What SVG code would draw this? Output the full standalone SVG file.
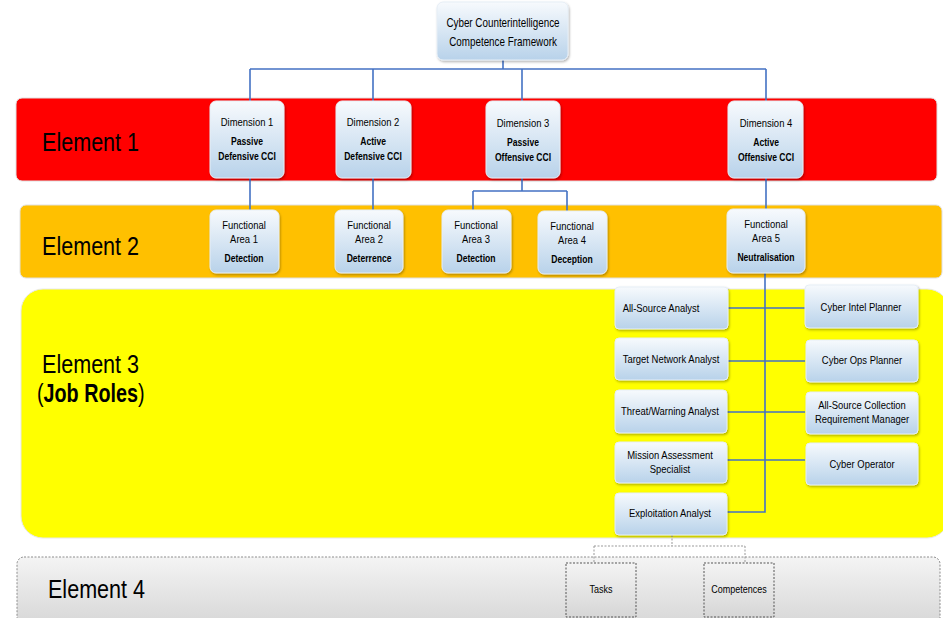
<svg xmlns="http://www.w3.org/2000/svg" width="943" height="618" viewBox="0 0 943 618">
<defs>
<linearGradient id="boxg" x1="0" y1="0" x2="0" y2="1">
<stop offset="0" stop-color="#f7fafd"/>
<stop offset="1" stop-color="#b8d2ea"/>
</linearGradient>
<linearGradient id="grayg" x1="0" y1="0" x2="0" y2="1">
<stop offset="0" stop-color="#f4f4f4"/>
<stop offset="1" stop-color="#d6d6d6"/>
</linearGradient>
<filter id="sh" x="-10%" y="-10%" width="130%" height="130%">
<feDropShadow dx="1" dy="1.5" stdDeviation="1.2" flood-color="#000" flood-opacity="0.3"/>
</filter>
</defs>
<style>
text{font-family:"Liberation Sans",Arial,sans-serif;fill:#000;transform-box:fill-box;}
.box{fill:url(#boxg);stroke:#e6eef6;stroke-width:1;filter:url(#sh);}
.t{font-size:11px;text-anchor:middle;transform-origin:center;transform:scaleX(0.86);}
.t.b{font-weight:bold;transform:scaleX(0.78);}
.top{font-size:12px;transform:scaleX(0.82);}
.sm{font-size:10px;transform:scaleX(0.9);}
.el{font-size:26px;transform-origin:left center;transform:scaleX(0.83);}
.jr{transform:scaleX(0.76);}
.con{fill:none;stroke:#4472c4;stroke-width:1.6;}
.dash{fill:none;stroke:#999;stroke-width:1;stroke-dasharray:2 1.5;}
</style>

<g id="bands">
<rect x="16" y="98" width="921" height="83" rx="6" fill="#ff0000" stroke="#e0e0e0"/>
<rect x="20" y="205" width="922" height="73" rx="6" fill="#ffc000" stroke="#e0e0e0"/>
<rect x="21" y="289" width="928" height="249" rx="22" fill="#ffff00" stroke="#e8e8e8"/>
<rect x="17" y="557" width="923" height="70" rx="7" fill="url(#grayg)" stroke="#8c8c8c" stroke-dasharray="2 1.5"/>
<text class="el" x="42" y="151">Element 1</text>
<text class="el" x="42" y="255">Element 2</text>
<text class="el" x="42" y="373">Element 3</text>
<text class="el jr" x="37" y="402"><tspan>(</tspan><tspan font-weight="bold">Job Roles</tspan><tspan>)</tspan></text>
<text class="el" x="48" y="598">Element 4</text>
</g>

<g id="connectors">
<path class="con" d="M503 60V69M250 69H766M250 69V101M373 69V101M522 69V101M766 69V101"/>
<path class="con" d="M250 178V210M373 178V210M522 178V191M473 191H567M473 191V210M567 191V211M766 178V209"/>
<path class="con" d="M765 273V512H726"/>
<path class="con" d="M728 308H805M727 361H805M727 412H805M727 460H805"/>
<path class="dash" d="M672 535V546M594 546H745M594 546V563M745 546V563"/>
</g>

<g id="root">
<rect class="box" x="437" y="2" width="131" height="58" rx="6"/>
<text class="t top" x="503" y="27">Cyber Counterintelligence</text>
<text class="t top" x="503" y="46">Competence Framework</text>
</g>

<g id="dim1">
<rect class="box" x="210" y="101" width="74" height="77" rx="6"/>
<text class="t" x="247" y="126">Dimension 1</text>
<text class="t b" x="247" y="145">Passive</text>
<text class="t b" x="247" y="160">Defensive CCI</text>
</g>
<g id="dim2">
<rect class="box" x="336" y="101" width="75" height="77" rx="6"/>
<text class="t" x="373" y="126">Dimension 2</text>
<text class="t b" x="373" y="145">Active</text>
<text class="t b" x="373" y="160">Defensive CCI</text>
</g>
<g id="dim3">
<rect class="box" x="486" y="101" width="74" height="77" rx="6"/>
<text class="t" x="523" y="127">Dimension 3</text>
<text class="t b" x="523" y="146">Passive</text>
<text class="t b" x="523" y="161">Offensive CCI</text>
</g>
<g id="dim4">
<rect class="box" x="728" y="101" width="75" height="77" rx="6"/>
<text class="t" x="766" y="127">Dimension 4</text>
<text class="t b" x="766" y="146">Active</text>
<text class="t b" x="766" y="161">Offensive CCI</text>
</g>

<g id="fa1">
<rect class="box" x="210" y="210" width="69" height="63" rx="6"/>
<text class="t" x="244" y="229">Functional</text>
<text class="t" x="244" y="243">Area 1</text>
<text class="t b" x="244" y="262">Detection</text>
</g>
<g id="fa2">
<rect class="box" x="335" y="210" width="68" height="63" rx="6"/>
<text class="t" x="369" y="229">Functional</text>
<text class="t" x="369" y="243">Area 2</text>
<text class="t b" x="369" y="262">Deterrence</text>
</g>
<g id="fa3">
<rect class="box" x="442" y="210" width="69" height="63" rx="6"/>
<text class="t" x="476" y="229">Functional</text>
<text class="t" x="476" y="243">Area 3</text>
<text class="t b" x="476" y="262">Detection</text>
</g>
<g id="fa4">
<rect class="box" x="538" y="211" width="69" height="63" rx="6"/>
<text class="t" x="572" y="230">Functional</text>
<text class="t" x="572" y="244">Area 4</text>
<text class="t b" x="572" y="263">Deception</text>
</g>
<g id="fa5">
<rect class="box" x="727" y="209" width="78" height="64" rx="6"/>
<text class="t" x="766" y="228">Functional</text>
<text class="t" x="766" y="242">Area 5</text>
<text class="t b" x="766" y="261">Neutralisation</text>
</g>

<g id="r1"><rect class="box" x="615" y="287" width="113" height="42" rx="4"/><text class="t" x="661" y="312">All-Source Analyst</text></g>
<g id="r2"><rect class="box" x="615" y="338" width="113" height="42" rx="4"/><text class="t" x="671" y="363">Target Network Analyst</text></g>
<g id="r3"><rect class="box" x="615" y="390" width="112" height="43" rx="4"/><text class="t" x="670" y="415">Threat/Warning Analyst</text></g>
<g id="r4"><rect class="box" x="615" y="442" width="112" height="41" rx="4"/><text class="t" x="670" y="459">Mission Assessment</text><text class="t" x="670" y="473">Specialist</text></g>
<g id="r5"><rect class="box" x="615" y="493" width="112" height="42" rx="4"/><text class="t" x="670" y="517">Exploitation Analyst</text></g>

<g id="r6"><rect class="box" x="805" y="285" width="113" height="43" rx="4"/><text class="t" x="861" y="311">Cyber Intel Planner</text></g>
<g id="r7"><rect class="box" x="806" y="340" width="112" height="42" rx="4"/><text class="t" x="862" y="364">Cyber Ops Planner</text></g>
<g id="r8"><rect class="box" x="806" y="392" width="112" height="42" rx="4"/><text class="t" x="862" y="409">All-Source Collection</text><text class="t" x="862" y="423">Requirement Manager</text></g>
<g id="r9"><rect class="box" x="806" y="443" width="112" height="42" rx="4"/><text class="t" x="862" y="468">Cyber Operator</text></g>

<g id="tasks"><rect x="566" y="563" width="70" height="54" fill="url(#grayg)" stroke="#555" stroke-dasharray="2 1.5"/><text class="t sm" x="601" y="593">Tasks</text></g>
<g id="competences"><rect x="704" y="563" width="70" height="54" fill="url(#grayg)" stroke="#555" stroke-dasharray="2 1.5"/><text class="t sm" x="739" y="593">Competences</text></g>
</svg>
